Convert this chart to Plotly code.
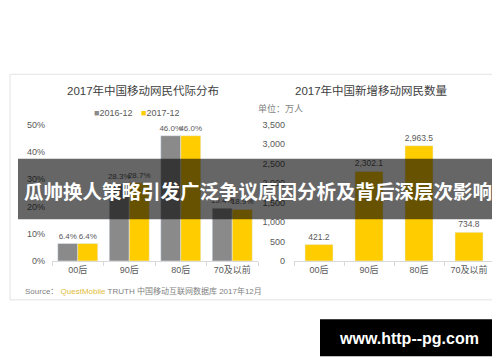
import plotly.graph_objects as go

categories = ["00后", "90后", "80后", "70及以前"]
share_2016 = [6.4, 28.3, 46.0, 19.4]
share_2017 = [6.4, 28.7, 46.0, 18.9]
new_users = [421.2, 2302.1, 2963.5, 734.8]
left_ticks = [0, 10, 20, 30, 40, 50]
left_ticktext = ["0%", "10%", "20%", "30%", "40%", "50%"]
right_ticks = [0, 500, 1000, 1500, 2000, 2500, 3000, 3500]
right_ticktext = ["0", "500", "1,000", "1,500", "2,000", "2,500", "3,000", "3,500"]

W, H = 500, 362
def px(x): return x / W
def py(y): return 1 - y / H

FONT = "Liberation Sans, Arial, Noto Sans CJK SC, sans-serif"
GRAY = "#8a8a8a"
YELLOW = "#FFCC00"
TXT = "#595959"

fig = go.Figure()
bw = 20 / 51.5
fig.add_trace(go.Bar(x=categories, y=share_2016, name="2016-12", marker_color=GRAY,
                     width=bw, offset=-bw, texttemplate="%{y:.1f}%", textposition="outside",
                     constraintext="none",
                     textfont=dict(size=8, color=TXT), cliponaxis=False, xaxis="x", yaxis="y"))
fig.add_trace(go.Bar(x=categories, y=share_2017, name="2017-12", marker_color=YELLOW,
                     width=bw, offset=0, texttemplate="%{y:.1f}%", textposition="outside",
                     constraintext="none",
                     textfont=dict(size=8, color=TXT), cliponaxis=False, xaxis="x", yaxis="y"))
fig.add_trace(go.Bar(x=categories, y=new_users, name="新增", marker_color=YELLOW,
                     width=0.56, texttemplate="%{y:,.1f}", textposition="outside",
                     constraintext="none",
                     textfont=dict(size=8.5, color=TXT), cliponaxis=False, xaxis="x2", yaxis="y2"))

ydom = [py(255), py(115)]
xcommon = dict(type="category", range=[-0.5, 3.5], showline=True, linecolor="#d9d9d9",
               linewidth=1, ticks="outside", tickson="boundaries", ticklen=4,
               tickcolor="#d9d9d9", showgrid=False, zeroline=False,
               tickfont=dict(size=9, color=TXT, family=FONT), fixedrange=True)
fig.update_layout(
    width=W, height=H, margin=dict(l=0, r=0, t=0, b=0),
    paper_bgcolor="white", plot_bgcolor="white", showlegend=False,
    font=dict(family=FONT, color=TXT),
    xaxis=dict(domain=[px(44), px(250)], anchor="y", **xcommon),
    xaxis2=dict(domain=[px(286), px(486)], anchor="y2", **xcommon),
    yaxis=dict(domain=ydom, range=[0, 50], tickvals=left_ticks, ticktext=left_ticktext,
               showgrid=False, zeroline=False, showline=False, ticks="",
               ticklabelstandoff=6, tickfont=dict(size=9, color=TXT), anchor="x"),
    yaxis2=dict(domain=ydom, range=[0, 3500], tickvals=right_ticks, ticktext=right_ticktext,
                showgrid=False, zeroline=False, showline=False, ticks="",
                ticklabelstandoff=8, tickfont=dict(size=9, color=TXT), anchor="x2"),
)

shapes = [
    dict(type="rect", xref="paper", yref="paper", x0=px(2), x1=px(498), y0=py(295), y1=py(63),
         line=dict(color="#e3e3e3", width=1), fillcolor="rgba(0,0,0,0)", layer="below"),
    dict(type="rect", xref="paper", yref="paper", x0=px(10), x1=px(490), y0=py(212), y1=py(150),
         line=dict(width=0), fillcolor="rgba(0,0,0,0.6)", layer="above"),
    dict(type="rect", xref="paper", yref="paper", x0=px(312), x1=px(491), y0=py(353), y1=py(315),
         line=dict(width=0), fillcolor="black", layer="above"),
]
fig.update_layout(shapes=shapes)

def ann(text, x, y, size, color="#333333", xanchor="center", **kw):
    fig.add_annotation(text=text, xref="paper", yref="paper", x=px(x), y=py(y),
                       xanchor=xanchor, yanchor="middle", showarrow=False,
                       font=dict(size=size, color=color, family=FONT), **kw)

ann("2017年中国移动网民代际分布", 135, 80, 11.5, "#404040")
ann("2017年中国新增移动网民数量", 363, 80, 11.5, "#404040")
ann(f"<span style='color:{GRAY}'>■</span>2016-12", 84, 103, 9, TXT, xanchor="left")
ann(f"<span style='color:{YELLOW}'>■</span>2017-12", 131, 103, 9, TXT, xanchor="left")
ann("单位：万人", 248, 98, 9, "#7f7f7f", xanchor="left")
ann("Source： <span style='color:#E2BC3A'>QuestMobile</span> TRUTH 中国移动互联网数据库 2017年12月",
    15, 286, 8, "#7f7f7f", xanchor="left")
ann("<b>瓜帅换人策略引发广泛争议原因分析及背后深层次影响</b>", 250, 184, 19.5, "white")
ann("<b>www.http--pg.com</b>", 401, 335, 16, "white")

fig.write_html("out.html")
